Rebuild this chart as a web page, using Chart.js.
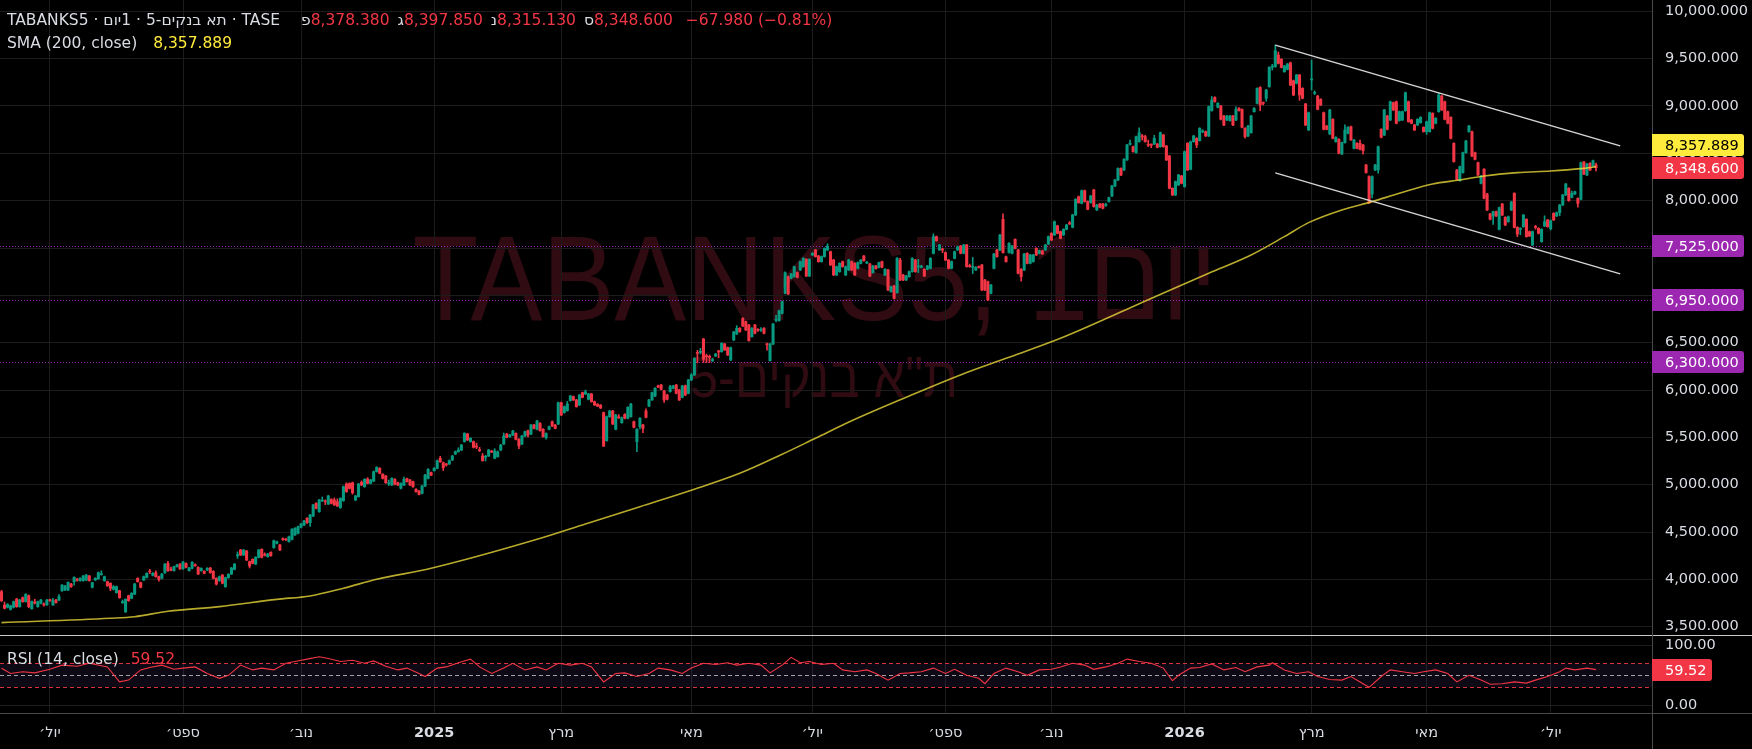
<!DOCTYPE html>
<html>
<head>
<meta charset="utf-8">
<script src="https://cdn.jsdelivr.net/npm/chart.js@4.4.1/dist/chart.umd.min.js"></script>
<style>
  html, body { margin: 0; padding: 0; background: #000; overflow: hidden; }
  #main { position: absolute; left: 0; top: 0; width: 1752px; height: 635px; }
  #rsi { position: absolute; left: 0; top: 635px; width: 1752px; height: 114px; }
</style>
</head>
<body>
<div id="main"><canvas id="cMain"></canvas></div>
<div id="rsi"><canvas id="cRsi"></canvas></div>
<script>
// Daily candles, TABANKS5
const opens = [
3870,3729,3705,3683,3705,3792,3712,3807,3765,3828,
3690,3762,3712,3747,3740,3730,3780,3730,3782,3782,
3880,3888,3888,3951,3976,3998,3986,3986,3993,4036,
3916,3993,4007,4050,3986,3976,3958,3895,3860,3880,
3754,3659,3828,3800,3845,4011,3965,3993,4021,4085,
4043,4071,4029,4011,4071,4170,4106,4092,4134,4162,
4113,4170,4092,4117,4150,4127,4092,4085,4099,4120,
4085,4011,3987,4046,3923,4018,4057,4106,4250,4310,
4258,4300,4187,4212,4162,4233,4317,4262,4240,4286,
4335,4381,4363,4426,4426,4398,4423,4469,4486,4550,
4574,4645,4599,4669,4803,4715,4828,4828,4796,4845,
4838,4821,4757,4831,5007,5014,5021,4838,4874,5025,
4979,5060,5014,5039,5138,5173,5110,5092,5010,4997,
5057,5021,4961,4997,5064,5050,5032,4951,4933,4909,
4986,5067,5127,5148,5173,5279,5233,5215,5219,5261,
5324,5349,5366,5455,5535,5455,5455,5405,5370,5303,
5290,5303,5352,5279,5296,5366,5430,5535,5507,5525,
5542,5479,5430,5514,5571,5535,5630,5585,5648,5585,
5497,5585,5666,5630,5641,5866,5761,5782,5888,5930,
5895,5842,5972,5958,5902,5958,5877,5850,5840,5761,
5465,5718,5778,5585,5715,5655,5743,5701,5718,5666,
5455,5613,5631,5778,5831,5895,5937,6040,6053,5989,
5947,5983,6018,6053,6000,5923,6046,5965,6106,6159,
6395,6398,6539,6360,6352,6310,6359,6408,6405,6486,
6447,6317,6528,6592,6652,6757,6722,6687,6564,6687,
6636,6630,6652,6485,6310,6486,6735,6732,6810,7021,
7197,7180,7197,7240,7268,7303,7380,7204,7426,7479,
7416,7356,7409,7479,7461,7373,7215,7250,7356,7215,
7268,7356,7338,7285,7338,7415,7340,7331,7240,7310,
7296,7356,7215,7268,7039,7099,7028,7373,7215,7162,
7197,7250,7373,7300,7296,7275,7275,7285,7443,7620,
7479,7485,7451,7373,7285,7391,7479,7521,7444,7532,
7310,7296,7268,7300,7320,7162,7144,7021,7285,7479,
7479,7803,7408,7451,7444,7591,7479,7275,7268,7444,
7338,7356,7496,7444,7468,7479,7542,7655,7637,7733,
7673,7638,7697,7760,7719,7849,8042,7972,8106,7990,
7979,8113,7902,7965,7965,7950,7990,8049,8155,8218,
8341,8324,8430,8595,8570,8507,8623,8680,8676,8590,
8592,8598,8598,8570,8693,8577,8472,8130,8060,8166,
8261,8148,8606,8331,8623,8658,8634,8725,8729,8683,
8951,9091,8986,8999,8894,8852,8845,8894,8852,8975,
8964,8764,8683,8718,8940,9028,9197,9035,9081,9204,
9410,9415,9538,9493,9362,9387,9457,9267,9239,9327,
9186,9021,8746,9275,9134,9105,9070,8929,8788,8704,
8859,8623,8648,8493,8613,8711,8781,8553,8606,8606,
8588,8377,8254,8070,8324,8324,8753,8693,8894,8852,
9035,9045,8845,8852,8950,9045,8852,8799,8799,8824,
8774,8729,8729,8922,8817,8940,9105,9045,8940,8880,
8605,8323,8211,8296,8507,8729,8729,8507,8401,8183,
8331,8070,7859,7838,7884,7697,7965,7824,7778,7901,
8077,7718,7697,7725,7803,7673,7532,7725,7708,7567,
7732,7796,7704,7866,7838,7873,7954,8060,8130,8035,
8070,8024,8014,8408,8271,8394,8366,8378.38];

const highs = [
3885,3760,3744,3728,3772,3800,3790,3815,3850,3835,
3772,3790,3770,3790,3752,3788,3792,3800,3790,3840,
3946,3936,3974,3958,4028,4012,4018,4042,4053,4042,
3970,4018,4078,4090,4035,3982,3964,3935,3930,3886,
3782,3795,3834,3860,3958,4017,3971,4036,4070,4106,
4072,4090,4036,4064,4168,4190,4130,4140,4160,4168,
4190,4176,4126,4187,4165,4134,4123,4092,4124,4127,
4092,4018,4036,4052,4024,4060,4127,4168,4290,4318,
4316,4306,4194,4218,4240,4316,4323,4280,4275,4292,
4415,4405,4370,4440,4432,4458,4536,4546,4564,4592,
4624,4652,4687,4793,4810,4845,4870,4840,4888,4852,
4860,4850,4862,4986,5020,5020,5028,4888,5014,5040,
5064,5075,5057,5145,5190,5180,5117,5099,5050,5074,
5064,5028,5020,5080,5071,5057,5039,4958,4940,4993,
5109,5169,5134,5180,5261,5300,5240,5225,5261,5310,
5356,5390,5426,5549,5542,5497,5462,5440,5395,5330,
5310,5373,5362,5380,5356,5426,5545,5542,5532,5574,
5549,5486,5521,5567,5578,5637,5637,5680,5655,5592,
5549,5620,5673,5637,5873,5873,5831,5880,5944,5937,
5902,5954,5979,6000,5965,5965,5884,5857,5847,5768,
5725,5785,5785,5743,5740,5715,5750,5824,5859,5673,
5592,5708,5638,5800,5902,5979,6025,6052,6060,5996,
5954,6050,6050,6060,6007,6050,6053,6113,6175,6342,
6420,6440,6546,6380,6370,6335,6387,6420,6500,6493,
6454,6454,6620,6680,6659,6764,6729,6694,6659,6694,
6650,6660,6659,6495,6493,6704,6790,6845,6940,7247,
7204,7232,7310,7247,7363,7398,7387,7387,7451,7486,
7423,7416,7503,7545,7468,7380,7310,7345,7363,7310,
7380,7363,7345,7352,7380,7422,7360,7338,7317,7317,
7352,7363,7282,7275,7098,7106,7398,7390,7222,7211,
7257,7398,7380,7380,7317,7282,7317,7398,7650,7627,
7539,7500,7458,7380,7363,7468,7521,7528,7539,7539,
7330,7400,7303,7310,7327,7169,7151,7116,7444,7486,
7644,7860,7415,7556,7528,7598,7486,7282,7444,7451,
7433,7433,7503,7479,7475,7539,7627,7662,7785,7740,
7680,7704,7750,7780,7856,8021,8049,8113,8113,7997,
8056,8120,7961,7972,7972,7975,8039,8162,8225,8348,
8348,8444,8595,8640,8577,8683,8770,8700,8690,8640,
8600,8690,8605,8725,8700,8584,8479,8137,8208,8278,
8268,8525,8613,8630,8690,8665,8771,8750,8736,9000,
9100,9098,9035,9006,8901,8901,8901,8901,8990,8982,
8971,8771,8796,8901,8982,9193,9204,9042,9176,9415,
9440,9644,9570,9500,9429,9450,9464,9274,9334,9334,
9193,9028,8936,9485,9160,9112,9077,8936,8795,8965,
8866,8676,8655,8620,8800,8782,8788,8648,8613,8640,
8595,8384,8261,8261,8384,8577,8760,8965,8901,9052,
9042,9052,8947,8947,9147,9052,8859,8806,8866,8887,
8781,8841,8936,8929,8877,9140,9112,9052,8947,8887,
8612,8330,8366,8514,8637,8795,8736,8514,8408,8267,
8338,8077,7866,7891,7891,7933,7972,7831,7838,7993,
8084,7725,7715,7855,7810,7680,7680,7740,7715,7704,
7840,7803,7796,7873,7880,7961,8067,8183,8137,8100,
8102,8031,8408,8415,8394,8401,8429,8397.85];

const lows = [
3765,3688,3698,3676,3698,3705,3706,3758,3760,3700,
3684,3740,3705,3740,3718,3724,3768,3725,3748,3776,
3874,3882,3882,3916,3940,3982,3980,3980,3987,3980,
3910,3987,4000,4044,3980,3925,3880,3888,3854,3800,
3746,3650,3768,3795,3838,3970,3910,3987,4015,4060,
4036,4022,3980,4004,4064,4085,4088,4086,4128,4104,
4106,4120,4086,4110,4137,4050,4086,4058,4092,4064,
4004,3940,3980,3952,3916,4012,4050,4100,4222,4252,
4252,4198,4120,4164,4156,4227,4226,4247,4234,4244,
4329,4375,4304,4412,4410,4392,4417,4463,4480,4544,
4568,4592,4560,4662,4744,4708,4822,4790,4790,4796,
4780,4768,4750,4824,4920,4954,4900,4832,4868,4990,
4972,5008,5008,5032,5132,5114,5060,5014,4990,4990,
4998,4990,4955,4990,5026,4990,4972,4920,4892,4902,
4980,5060,5096,5142,5167,5236,5150,5196,5213,5255,
5318,5343,5360,5449,5466,5449,5388,5380,5350,5248,
5250,5297,5338,5273,5290,5360,5424,5494,5501,5519,
5473,5380,5424,5508,5505,5529,5589,5579,5565,5501,
5480,5579,5614,5589,5635,5730,5755,5776,5882,5889,
5818,5836,5917,5952,5896,5871,5836,5824,5804,5402,
5459,5712,5635,5579,5700,5649,5695,5695,5712,5600,
5349,5590,5550,5706,5825,5889,5931,6024,6001,5870,
5896,5977,6012,5959,5889,5917,5941,5959,6100,6153,
6290,6380,6290,6290,6290,6300,6353,6340,6399,6417,
6364,6311,6522,6586,6610,6670,6628,6515,6558,6593,
6620,6620,6593,6420,6304,6480,6720,6726,6804,7015,
7008,7174,7191,7184,7262,7297,7198,7198,7420,7403,
7350,7350,7403,7473,7315,7209,7209,7244,7297,7209,
7262,7262,7209,7279,7332,7360,7334,7198,7234,7276,
7290,7290,7209,7050,7033,6962,7022,7156,7156,7156,
7191,7244,7244,7240,7290,7198,7269,7279,7437,7571,
7473,7450,7367,7279,7279,7385,7473,7438,7438,7297,
7296,7230,7262,7288,7050,7050,6945,7015,7279,7402,
7473,7445,7350,7445,7438,7491,7226,7150,7262,7332,
7332,7350,7420,7438,7431,7473,7536,7578,7631,7649,
7596,7632,7691,7748,7713,7843,7973,7966,7984,7903,
7973,7931,7896,7924,7913,7940,7984,8043,8149,8212,
8265,8318,8424,8585,8512,8501,8617,8640,8617,8570,
8560,8592,8557,8564,8564,8424,8124,8054,8054,8160,
8177,8142,8318,8325,8617,8560,8628,8719,8677,8677,
8945,9040,8980,8853,8793,8846,8839,8793,8846,8945,
8769,8660,8677,8712,8934,9022,8950,9010,9050,9198,
9380,9409,9444,9402,9356,9381,9215,9110,9233,9060,
9075,8793,8740,9169,9120,8959,9004,8747,8747,8698,
8652,8617,8494,8487,8607,8705,8635,8547,8547,8536,
8490,8290,7972,8030,8318,8290,8663,8687,8747,8846,
8952,8811,8839,8846,8944,8828,8811,8740,8793,8818,
8723,8700,8723,8758,8811,8934,8952,8853,8811,8652,
8406,8219,8205,8290,8501,8723,8465,8430,8265,8177,
8019,7895,7797,7750,7832,7691,7842,7737,7772,7895,
7712,7620,7640,7719,7614,7621,7526,7700,7649,7561,
7726,7719,7690,7790,7832,7840,7948,8054,7994,8029,
8064,7930,8008,8275,8265,8317,8360,8315.13];

const closes = [
3775,3694,3735,3720,3765,3712,3782,3765,3842,3712,
3765,3747,3765,3782,3730,3782,3775,3775,3755,3817,
3940,3930,3968,3923,4021,3990,4011,4036,4046,3986,
3965,4011,4071,4053,4029,3933,3905,3923,3923,3807,
3765,3789,3775,3853,3951,3976,3916,4029,4064,4078,
4064,4029,4000,4057,4162,4092,4099,4134,4152,4110,
4183,4127,4120,4180,4144,4057,4117,4064,4117,4071,
4011,3951,4029,3959,4018,4053,4120,4162,4258,4258,
4310,4205,4141,4170,4233,4310,4233,4255,4268,4250,
4409,4398,4310,4420,4418,4451,4529,4539,4557,4585,
4617,4599,4680,4786,4750,4838,4835,4820,4881,4803,
4786,4775,4856,4979,4926,4961,4916,4881,5007,4997,
5057,5014,5050,5138,5183,5120,5067,5021,5018,5067,
5004,4997,5014,5057,5032,4997,4979,4926,4898,4986,
5102,5162,5102,5173,5254,5243,5180,5208,5254,5303,
5349,5366,5419,5542,5472,5490,5395,5398,5360,5254,
5296,5366,5345,5356,5349,5419,5514,5500,5525,5567,
5479,5409,5514,5560,5525,5630,5595,5673,5571,5507,
5542,5613,5620,5595,5866,5736,5824,5852,5937,5895,
5824,5947,5923,5982,5958,5877,5842,5830,5810,5409,
5718,5778,5641,5736,5706,5708,5701,5817,5852,5606,
5585,5701,5596,5712,5895,5972,6018,6032,6007,5895,
5902,6036,6043,5965,5895,6043,5947,6106,6159,6335,
6387,6405,6324,6352,6345,6317,6380,6402,6493,6423,
6370,6447,6613,6652,6616,6676,6634,6521,6652,6599,
6630,6640,6599,6478,6486,6697,6740,6838,6933,7240,
7014,7225,7303,7190,7356,7391,7204,7380,7444,7409,
7356,7409,7496,7521,7321,7215,7303,7338,7303,7303,
7373,7268,7215,7345,7373,7366,7345,7204,7310,7282,
7345,7296,7275,7056,7091,6968,7391,7162,7162,7204,
7250,7391,7250,7305,7310,7204,7310,7391,7620,7577,
7532,7479,7373,7285,7356,7461,7514,7444,7532,7303,
7303,7300,7296,7294,7056,7056,6951,7109,7437,7408,
7637,7451,7356,7549,7521,7497,7232,7197,7437,7338,
7426,7426,7426,7472,7437,7532,7620,7584,7778,7655,
7602,7697,7743,7754,7849,8014,7979,8106,7990,7909,
8049,7937,7954,7930,7919,7956,8032,8155,8218,8341,
8271,8437,8588,8600,8518,8676,8718,8674,8623,8585,
8586,8658,8563,8718,8570,8430,8130,8060,8201,8271,
8183,8518,8324,8623,8683,8588,8764,8729,8683,8993,
9063,9046,9028,8859,8799,8894,8894,8799,8964,8951,
8775,8676,8789,8894,8975,9186,9010,9028,9169,9408,
9415,9584,9450,9408,9422,9443,9221,9116,9327,9116,
9081,8799,8929,9282,9141,8965,9010,8753,8753,8958,
8658,8669,8500,8613,8746,8775,8641,8641,8553,8542,
8528,8296,7979,8254,8377,8570,8669,8958,8753,9045,
8958,8817,8940,8940,9140,8834,8817,8746,8859,8880,
8729,8834,8929,8764,8870,9116,8958,8859,8817,8658,
8412,8225,8359,8507,8630,8788,8471,8436,8271,8260,
8025,7901,7803,7884,7838,7926,7848,7743,7831,7986,
7718,7648,7708,7848,7620,7627,7673,7718,7655,7697,
7778,7725,7789,7796,7873,7954,8060,8176,8000,8077,
8095,7972,8401,8281,8387,8323,8422,8348.6];

// SMA(200) read at a few candles
const smaIdx = [0,36,44,55,72,91,102,113,124,142,177,193,211,229,244,258,269,281,299,319,332,350,372,385,399,413,424,432,443,453,462,473,482,490,501,512,522,527];
const smaValues = [3543,3589,3606,3663,3712,3789,3825,3906,4001,4117,4423,4585,4768,4952,5120,5321,5490,5675,5923,6185,6335,6546,6853,7039,7233,7426,7620,7768,7902,7990,8078,8176,8218,8261,8296,8313,8338,8357.889];

// RSI(14) read at a few candles
const rsiIdx = [0,3,7,11,16,20,25,29,35,39,
42,46,49,53,57,60,64,68,72,75,
79,83,86,90,94,97,101,105,108,112,
116,120,123,127,131,134,138,140,144,147,
151,155,158,162,166,169,173,177,180,184,
188,192,195,199,203,206,210,214,217,221,
225,228,232,236,240,243,247,251,254,258,
261,264,267,271,275,278,282,286,289,293,
297,300,304,308,312,315,319,323,325,328,
332,336,339,343,347,350,354,358,361,365,
369,372,376,380,384,387,389,393,396,400,
404,408,411,415,419,420,424,428,432,435,
439,443,446,450,452,456,459,463,467,470,
474,478,481,485,489,492,496,500,504,507,
511,515,517,520,524,527];
const rsiValues = [61.6,53,56,54,60,67,65,70,64,39,
42,59,63,67,60,62,64,53,45,50,
67,59,62,59,70,73,77,81,78,73,
75,70,74,65,59,62,53,48,62,64,
71,77,64,53,62,70,59,64,59,70,
67,70,64,39,53,54,48,53,62,59,
53,62,70,68,71,67,70,67,54,67,
80,71,73,68,70,59,56,59,53,42,
53,54,56,62,53,60,50,45,36,53,
62,56,50,59,60,64,70,67,60,64,
70,77,73,70,62,41,50,62,63,69,
59,63,56,64,67,71,59,53,56,48,
43,42,48,36,30,48,59,56,53,56,
59,53,39,50,42,35,36,39,37,42,
48,56,62,59,62,59.52];

// channel lines (drawn trend lines)
const upperIdx = [421, 535];
const upperValues = [9642, 8578];
const lowerIdx = [421, 535];
const lowerValues = [8294, 7226];

// horizontal levels
const levels = [7525, 6950, 6300];

// axis
const priceTicks = [3500,4000,4500,5000,5500,6000,6500,7000,7500,8000,8500,9000,9500,10000];
const rsiTicks = [0, 100];
const monthIdx = [16, 60, 99, 143, 185, 228, 268, 312, 347, 391, 433, 471, 512];
const monthNames = ["יול׳","ספט׳","נוב׳","2025","מרץ","מאי","יול׳","ספט׳","נוב׳","2026","מרץ","מאי","יול׳"];

const SLOTS = 546;
const FONT = "'DejaVu Sans', sans-serif";
const UP = '#089981', DOWN = '#f23645', RED = '#f23645';
const YEL = '#ffeb3b', PURPLE = '#9c27b0';
const GRID = '#1c1c1c', AXIS = '#4a4a4a', TXT = '#d9dce3';

Chart.defaults.font.family = FONT;
Chart.defaults.animation = false;

const slotLabels = Array.from({ length: SLOTS }, (_, i) => String(i));

function sparse(idx, vals) {
  const a = new Array(SLOTS).fill(null);
  idx.forEach((k, j) => { a[k] = vals[j]; });
  return a;
}

function fmt3(v) {
  return v.toLocaleString('en-US', { minimumFractionDigits: 3, maximumFractionDigits: 3 });
}

const candleColor = closes.map((c, i) => c >= opens[i] ? UP : DOWN);
const wickData = highs.map((h, i) => [lows[i], h]);
const bodyData = opens.map((o, i) => [o, closes[i]]);

function tagBox(ctx, x, yc, w, bg, fg, text) {
  ctx.fillStyle = bg;
  ctx.beginPath();
  ctx.roundRect(x, Math.round(yc) - 11, w, 22, [0, 3, 3, 0]);
  ctx.fill();
  ctx.fillStyle = fg;
  ctx.textAlign = 'left';
  ctx.textBaseline = 'middle';
  ctx.fillText(text, x + 13, Math.round(yc) + 1);
}

function drawRun(ctx, x, y, parts) {
  parts.forEach(p => {
    ctx.fillStyle = p[1];
    ctx.fillText(p[0], x, y);
    x += ctx.measureText(p[0]).width + (p[2] || 0);
  });
}

// watermark, levels, tags and legend of the price pane
const pricePanePlugin = {
  id: 'pricePane',
  beforeDraw(chart) {
    const ctx = chart.ctx;
    ctx.save();
    ctx.fillStyle = '#300c12';
    ctx.textAlign = 'center';
    ctx.textBaseline = 'alphabetic';
    ctx.font = "121px 'Liberation Sans', sans-serif";
    const t1 = 'TABANKS5, 1יום';
    const s1 = 805 / ctx.measureText(t1).width;
    ctx.translate(815, 320);
    ctx.scale(s1, 1);
    ctx.fillText(t1, 0, 0);
    ctx.restore();
    ctx.save();
    ctx.fillStyle = '#300c12';
    ctx.textAlign = 'center';
    ctx.font = "58px 'Liberation Sans', sans-serif";
    const t2 = 'ת"א בנקים-5';
    const s2 = 268 / ctx.measureText(t2).width;
    ctx.translate(824, 397);
    ctx.scale(s2, 1);
    ctx.fillText(t2, 0, 0);
    ctx.restore();
  },
  beforeDatasetsDraw(chart) {
    const { ctx, chartArea: a, scales: { y } } = chart;
    ctx.save();
    ctx.strokeStyle = PURPLE;
    ctx.lineWidth = 1;
    ctx.setLineDash([1, 2]);
    levels.forEach(v => {
      const py = Math.round(y.getPixelForValue(v)) + 0.5;
      ctx.beginPath();
      ctx.moveTo(a.left, py);
      ctx.lineTo(a.right, py);
      ctx.stroke();
    });
    ctx.restore();
  },
  afterDraw(chart) {
    const { ctx, chartArea: a, scales: { y } } = chart;
    ctx.save();
    ctx.font = '14.5px ' + FONT;
    levels.forEach(v => tagBox(ctx, a.right, y.getPixelForValue(v), 92, PURPLE, '#fff', fmt3(v)));
    const lastClose = closes[closes.length - 1];
    const lastSma = smaValues[smaValues.length - 1];
    const yLast = y.getPixelForValue(lastClose);
    let ySma = y.getPixelForValue(lastSma);
    if (ySma > yLast - 23) ySma = yLast - 23;
    tagBox(ctx, a.right, yLast, 92, RED, '#fff', fmt3(lastClose));
    tagBox(ctx, a.right, ySma, 92, YEL, '#000', fmt3(lastSma));

    // legend
    ctx.font = '15.5px ' + FONT;
    ctx.textAlign = 'left';
    ctx.textBaseline = 'middle';
    const o = opens[opens.length - 1], h = highs[highs.length - 1], l = lows[lows.length - 1];
    drawRun(ctx, 7, 21, [['TABANKS5 · תא בנקים-5 · 1יום · TASE', TXT]]);
    drawRun(ctx, 301, 21, [
      ['פ', TXT], [fmt3(o), RED, 8],
      ['ג', TXT], [fmt3(h), RED, 8],
      ['נ', TXT], [fmt3(l), RED, 8],
      ['ס', TXT], [fmt3(lastClose), RED, 13],
      ['\u221267.980 (\u22120.81%)', RED]
    ]);
    drawRun(ctx, 7, 43.5, [
      ['SMA (200, close)', TXT, 16],
      [fmt3(lastSma), YEL]
    ]);
    ctx.restore();
  }
};

new Chart(document.getElementById('cMain'), {
  type: 'bar',
  data: {
    labels: slotLabels,
    datasets: [
      { type: 'bar', data: wickData, backgroundColor: candleColor, barThickness: 1, grouped: false, order: 4 },
      { type: 'bar', data: bodyData, backgroundColor: candleColor, barThickness: 2.4, grouped: false, minBarLength: 1, order: 3 },
      { type: 'line', data: sparse(smaIdx, smaValues), borderColor: 'rgba(255,235,59,0.72)', borderWidth: 1.6,
        pointRadius: 0, spanGaps: true, cubicInterpolationMode: 'monotone', order: 2 },
      { type: 'line', data: sparse(upperIdx, upperValues), borderColor: '#d6d6d6', borderWidth: 1.4, pointRadius: 0, spanGaps: true, order: 1 },
      { type: 'line', data: sparse(lowerIdx, lowerValues), borderColor: '#d6d6d6', borderWidth: 1.4, pointRadius: 0, spanGaps: true, order: 1 }
    ]
  },
  options: {
    responsive: true,
    maintainAspectRatio: false,
    devicePixelRatio: 1,
    events: [],
    layout: { padding: 0 },
    plugins: { legend: { display: false }, tooltip: { enabled: false } },
    scales: {
      x: {
        type: 'category',
        offset: true,
        grid: { color: GRID, drawTicks: false, offset: false },
        border: { display: false },
        ticks: { display: false },
        afterBuildTicks: s => { s.ticks = monthIdx.map(v => ({ value: v })); },
        afterFit: s => { s.height = 0; s.paddingLeft = 0; s.paddingRight = 0; }
      },
      y: {
        position: 'right',
        min: 3412.5,
        max: 10119.4,
        grid: { color: GRID, drawTicks: false },
        border: { display: true, color: AXIS },
        ticks: { color: TXT, padding: 13, font: { size: 14.5 }, callback: v => fmt3(v) },
        afterBuildTicks: s => { s.ticks = priceTicks.map(v => ({ value: v })); },
        afterFit: s => { s.width = 100; s.paddingTop = 0; s.paddingBottom = 0; }
      }
    }
  },
  plugins: [pricePanePlugin]
});

// RSI pane
const rsiPanePlugin = {
  id: 'rsiPane',
  beforeDatasetsDraw(chart) {
    const { ctx, chartArea: a, scales: { y } } = chart;
    const y70 = y.getPixelForValue(70), y50 = y.getPixelForValue(50), y30 = y.getPixelForValue(30);
    ctx.save();
    ctx.fillStyle = 'rgba(126,87,194,0.11)';
    ctx.fillRect(a.left, y70, a.width, y30 - y70);
    ctx.lineWidth = 1;
    ctx.setLineDash([4, 3]);
    [[y70, 'rgba(242,54,69,0.9)'], [y50, 'rgba(200,200,205,0.8)'], [y30, 'rgba(242,54,69,0.9)']].forEach(([py, c]) => {
      ctx.strokeStyle = c;
      ctx.beginPath();
      ctx.moveTo(a.left, Math.round(py) + 0.5);
      ctx.lineTo(a.right, Math.round(py) + 0.5);
      ctx.stroke();
    });
    ctx.restore();
  },
  afterDraw(chart) {
    const { ctx, chartArea: a, scales: { y }, width, height } = chart;
    ctx.save();
    // pane separators and axis line
    ctx.fillStyle = '#c9c9c9';
    ctx.fillRect(0, 0, width, 1);
    ctx.fillStyle = AXIS;
    ctx.fillRect(0, Math.round(a.bottom), width, 1);
    ctx.fillRect(a.right, 0, 1, height);
    // legend
    ctx.font = '15.5px ' + FONT;
    ctx.textAlign = 'left';
    ctx.textBaseline = 'middle';
    const lastRsi = rsiValues[rsiValues.length - 1];
    drawRun(ctx, 7, 25, [['RSI (14, close)', TXT, 12], [lastRsi.toFixed(2), RED]]);
    ctx.font = '14.5px ' + FONT;
    tagBox(ctx, a.right, y.getPixelForValue(lastRsi), 60, RED, '#fff', lastRsi.toFixed(2));
    ctx.restore();
  }
};

new Chart(document.getElementById('cRsi'), {
  type: 'line',
  data: {
    labels: slotLabels,
    datasets: [
      { data: sparse(rsiIdx, rsiValues), borderColor: '#f23645', borderWidth: 1.1, pointRadius: 0, spanGaps: true }
    ]
  },
  options: {
    responsive: true,
    maintainAspectRatio: false,
    devicePixelRatio: 1,
    events: [],
    layout: { padding: { top: 1 } },
    plugins: { legend: { display: false }, tooltip: { enabled: false } },
    scales: {
      x: {
        type: 'category',
        offset: true,
        grid: { color: GRID, drawTicks: false, offset: false },
        border: { display: false },
        ticks: {
          color: TXT,
          padding: 12,
          maxRotation: 0,
          autoSkip: false,
          font: c => ({ size: 14.5, weight: /^\d+$/.test((c.tick && c.tick.label) || '') ? 'bold' : 'normal' }),
          callback: v => monthNames[monthIdx.indexOf(v)]
        },
        afterBuildTicks: s => { s.ticks = monthIdx.map(v => ({ value: v })); },
        afterFit: s => { s.height = 36.3; s.paddingLeft = 0; s.paddingRight = 0; }
      },
      y: {
        position: 'right',
        min: -12.3,
        max: 115.5,
        grid: { color: GRID, drawTicks: false },
        border: { display: true, color: AXIS },
        ticks: { color: TXT, padding: 13, font: { size: 14.5 }, callback: v => v.toFixed(2) },
        afterBuildTicks: s => { s.ticks = rsiTicks.map(v => ({ value: v })); },
        afterFit: s => { s.width = 100; s.paddingTop = 0; s.paddingBottom = 0; }
      }
    }
  },
  plugins: [rsiPanePlugin]
});
</script>
</body>
</html>
